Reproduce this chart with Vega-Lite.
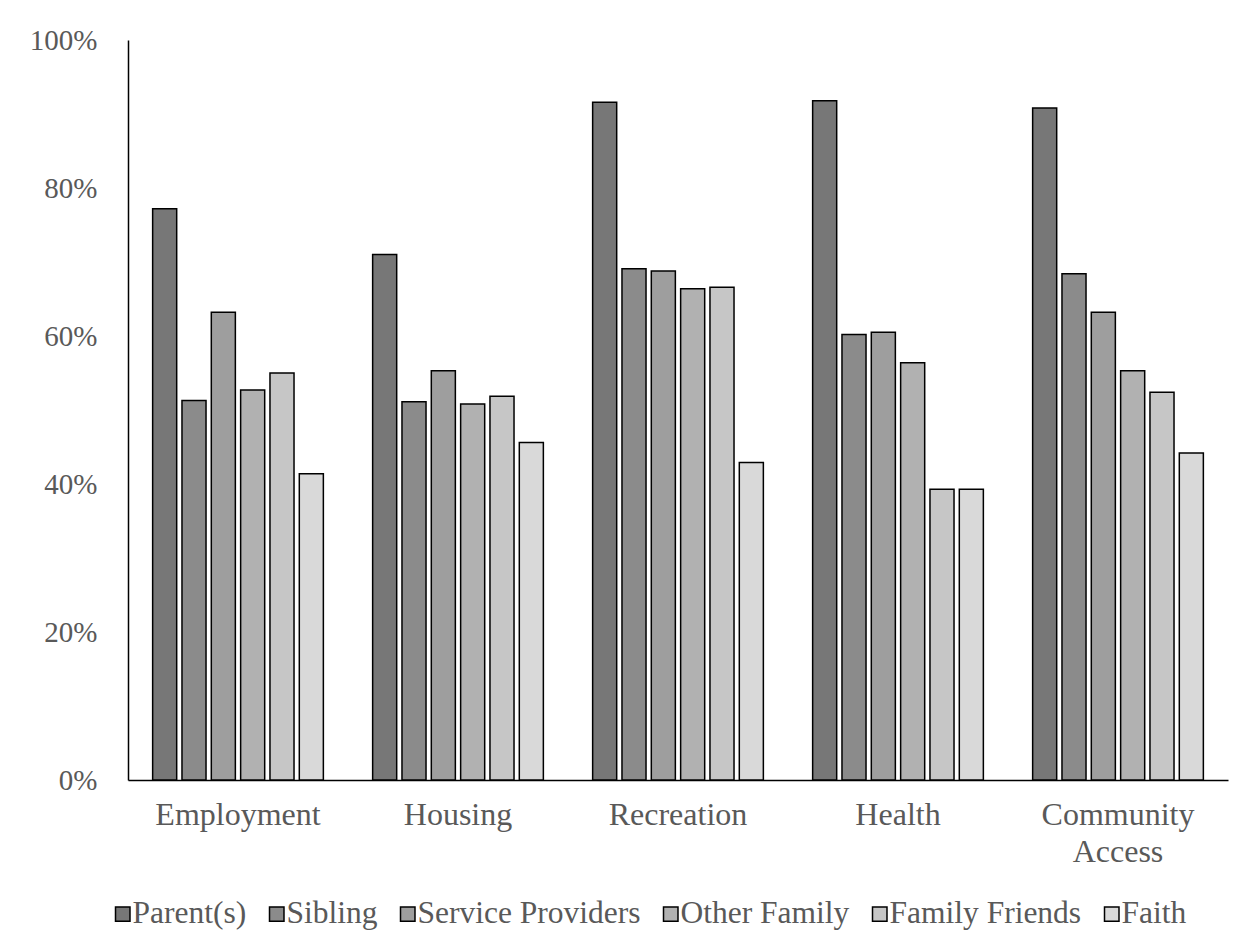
{
  "$schema": "https://vega.github.io/schema/vega-lite/v6.json",
  "width": 1100,
  "height": 740,
  "autosize": {"type": "none"},
  "padding": {"left": 128, "top": 40, "right": 26, "bottom": 172},
  "background": "white",
  "config": {
    "font": "Liberation Serif",
    "view": {"stroke": null},
    "axis": {"labelFont": "Liberation Serif", "labelColor": "#595959", "labelFontSize": 29, "grid": false, "ticks": false, "domainColor": "black", "domainWidth": 1.5, "title": null},
    "axisX": {"domainColor": "black", "domainWidth": 1.5},
    "legend": {"labelFont": "Liberation Serif", "labelColor": "#595959", "labelFontSize": 31.5}
  },
  "data": {
    "values": [
      {"area": "Employment", "source": "Parent(s)", "value": 77.2},
      {"area": "Employment", "source": "Sibling", "value": 51.3},
      {"area": "Employment", "source": "Service Providers", "value": 63.2},
      {"area": "Employment", "source": "Other Family", "value": 52.7},
      {"area": "Employment", "source": "Family Friends", "value": 55.0},
      {"area": "Employment", "source": "Faith", "value": 41.4},
      {"area": "Housing", "source": "Parent(s)", "value": 71.0},
      {"area": "Housing", "source": "Sibling", "value": 51.1},
      {"area": "Housing", "source": "Service Providers", "value": 55.3},
      {"area": "Housing", "source": "Other Family", "value": 50.8},
      {"area": "Housing", "source": "Family Friends", "value": 51.85},
      {"area": "Housing", "source": "Faith", "value": 45.6},
      {"area": "Recreation", "source": "Parent(s)", "value": 91.6},
      {"area": "Recreation", "source": "Sibling", "value": 69.1},
      {"area": "Recreation", "source": "Service Providers", "value": 68.8},
      {"area": "Recreation", "source": "Other Family", "value": 66.4},
      {"area": "Recreation", "source": "Family Friends", "value": 66.6},
      {"area": "Recreation", "source": "Faith", "value": 42.9},
      {"area": "Health", "source": "Parent(s)", "value": 91.8},
      {"area": "Health", "source": "Sibling", "value": 60.2},
      {"area": "Health", "source": "Service Providers", "value": 60.5},
      {"area": "Health", "source": "Other Family", "value": 56.4},
      {"area": "Health", "source": "Family Friends", "value": 39.3},
      {"area": "Health", "source": "Faith", "value": 39.3},
      {"area": "Community Access", "source": "Parent(s)", "value": 90.8},
      {"area": "Community Access", "source": "Sibling", "value": 68.4},
      {"area": "Community Access", "source": "Service Providers", "value": 63.2},
      {"area": "Community Access", "source": "Other Family", "value": 55.3},
      {"area": "Community Access", "source": "Family Friends", "value": 52.4},
      {"area": "Community Access", "source": "Faith", "value": 44.2}
    ]
  },
  "mark": {"type": "bar", "stroke": "black", "strokeWidth": 1.5},
  "encoding": {
    "x": {
      "field": "area", "type": "nominal", "sort": null,
      "scale": {"paddingInner": 0.2, "paddingOuter": 0.1},
      "axis": {"labelAngle": 0, "labelPadding": 19, "labelFontSize": 32, "labelLineHeight": 37, "labelBaseline": "top",
        "labelExpr": "datum.label == 'Community Access' ? ['Community', 'Access'] : datum.label"}
    },
    "xOffset": {
      "field": "source", "type": "nominal",
      "sort": ["Parent(s)", "Sibling", "Service Providers", "Other Family", "Family Friends", "Faith"],
      "scale": {"paddingInner": 0.18, "paddingOuter": 0.09}
    },
    "y": {
      "field": "value", "type": "quantitative",
      "scale": {"domain": [0, 100], "nice": false},
      "axis": {"values": [0, 20, 40, 60, 80, 100], "labelExpr": "datum.value + '%'", "labelPadding": 31}
    },
    "color": {
      "field": "source", "type": "nominal",
      "sort": ["Parent(s)", "Sibling", "Service Providers", "Other Family", "Family Friends", "Faith"],
      "scale": {
        "domain": ["Parent(s)", "Sibling", "Service Providers", "Other Family", "Family Friends", "Faith"],
        "range": ["#777777", "#8b8b8b", "#9e9e9e", "#b1b1b1", "#c6c6c6", "#d9d9d9"]
      },
      "legend": {
        "title": null, "orient": "none", "legendX": -21, "legendY": 858, "padding": 0,
        "direction": "horizontal", "columns": 6,
        "symbolType": "square", "symbolSize": 210,
        "symbolStrokeColor": "black", "symbolStrokeWidth": 1.5, "symbolOpacity": 1,
        "labelFont": "Liberation Serif", "labelFontSize": 31.5, "labelColor": "#595959", "labelLimit": 0,
        "labelOffset": -6, "columnPadding": 14
      }
    }
  }
}
